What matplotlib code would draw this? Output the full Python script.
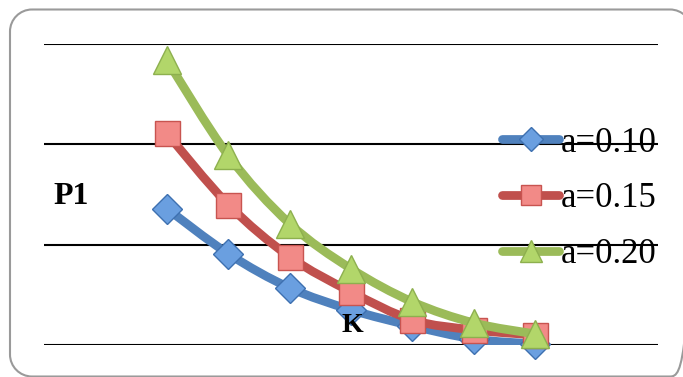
import numpy as np
import matplotlib
matplotlib.use("Agg")
import matplotlib.pyplot as plt
from matplotlib.path import Path
from matplotlib.patches import PathPatch
from matplotlib.lines import Line2D

# Data
k_values = [2, 3, 4, 5, 6, 7, 8]
p1_a010 = [1.36, 0.91, 0.57, 0.35, 0.19, 0.06, 0.01]
p1_a015 = [2.11, 1.40, 0.88, 0.53, 0.25, 0.15, 0.10]
p1_a020 = [2.84, 1.89, 1.21, 0.76, 0.43, 0.22, 0.11]
series_labels = ["a=0.10", "a=0.15", "a=0.20"]

line_colors = ["#4F81BD", "#C0504D", "#9BBB59"]
fill_colors = ["#6A9FE0", "#F28A87", "#B2D66A"]
edge_colors = ["#3E70B0", "#C85450", "#8DB04E"]
markers = ["D", "s", "^"]
marker_sizes = [15, 18, 20]

W, H = 683, 377
fig = plt.figure(figsize=(W / 100, H / 100), dpi=100)


def rounded_rect(left, top, right, bottom, r):
    """Rounded rectangle given in pixels from the top-left corner,
    returned as a Path in figure-fraction coordinates."""
    k = 0.5523 * r
    pts = [
        (left + r, top), (right - r, top),
        (right - r + k, top), (right, top + r - k), (right, top + r),
        (right, bottom - r),
        (right, bottom - r + k), (right - r + k, bottom), (right - r, bottom),
        (left + r, bottom),
        (left + r - k, bottom), (left, bottom - r + k), (left, bottom - r),
        (left, top + r),
        (left, top + r - k), (left + r - k, top), (left + r, top),
    ]
    codes = [Path.MOVETO, Path.LINETO,
             Path.CURVE4, Path.CURVE4, Path.CURVE4,
             Path.LINETO,
             Path.CURVE4, Path.CURVE4, Path.CURVE4,
             Path.LINETO,
             Path.CURVE4, Path.CURVE4, Path.CURVE4,
             Path.LINETO,
             Path.CURVE4, Path.CURVE4, Path.CURVE4]
    verts = [(x / W, 1 - y / H) for x, y in pts]
    return Path(verts, codes)


frame = PathPatch(rounded_rect(10, 9.5, 692, 376.5, 22),
                  transform=fig.transFigure, fill=False,
                  edgecolor="#9A9A9A", linewidth=1.5)
fig.patches.append(frame)

x0, x1, ytop, ybot = 44, 658, 44, 345
ax = fig.add_axes([x0 / W, (H - ybot) / H, (x1 - x0) / W, (ybot - ytop) / H])
ax.set_xlim(0, 10)
ax.set_ylim(0, 3)
for s in ax.spines.values():
    s.set_visible(False)
ax.set_xticks([])
ax.set_yticks([0, 1, 2, 3])
ax.tick_params(left=False, labelleft=False)
ax.yaxis.grid(True, color="black", linewidth=1.5)
ax.set_axisbelow(True)
ax.patch.set_alpha(0)


def smooth_path(xs, ys):
    pts = np.column_stack([xs, ys]).astype(float)
    n = len(pts)
    verts = [pts[0]]
    codes = [Path.MOVETO]
    for i in range(n - 1):
        p0 = pts[i - 1] if i > 0 else pts[i]
        p1 = pts[i]
        p2 = pts[i + 1]
        p3 = pts[i + 2] if i + 2 < n else pts[i + 1]
        c1 = p1 + (p2 - p0) / 6.0
        c2 = p2 - (p3 - p1) / 6.0
        verts += [c1, c2, p2]
        codes += [Path.CURVE4] * 3
    return Path(verts, codes)


all_series = [p1_a010, p1_a015, p1_a020]
handles = []
for i, ys in enumerate(all_series):
    patch = PathPatch(smooth_path(k_values, ys), fill=False,
                      edgecolor=line_colors[i], linewidth=6.3,
                      capstyle="round", joinstyle="round", zorder=3 + 2 * i)
    ax.add_patch(patch)
    ax.plot(k_values, ys, ls="none", marker=markers[i],
            markersize=marker_sizes[i], markerfacecolor=fill_colors[i],
            markeredgecolor=edge_colors[i], markeredgewidth=1.0,
            zorder=4 + 2 * i, clip_on=False)
    handles.append(Line2D([], [], color=line_colors[i], linewidth=6.3,
                          solid_capstyle="round", marker=markers[i],
                          markersize=marker_sizes[i] * 0.8,
                          markerfacecolor=fill_colors[i],
                          markeredgecolor=edge_colors[i],
                          markeredgewidth=1.0))

leg = fig.legend(handles, series_labels, loc="center left",
                 bbox_to_anchor=(502 / W, (H - 199) / H),
                 frameon=False, prop={"family": "Liberation Serif", "size": 25},
                 handlelength=1.65, handletextpad=0.05, labelspacing=0.66,
                 borderpad=0, borderaxespad=0)

fig.text(53 / W, (H - 197) / H, "P1", family="Liberation Serif",
         weight="bold", fontsize=23, va="center", ha="left")
fig.text(352 / W, (H - 326) / H, "K", family="Liberation Serif",
         weight="bold", fontsize=20, va="center", ha="center", zorder=20)

fig.savefig("out.png", dpi=100)
